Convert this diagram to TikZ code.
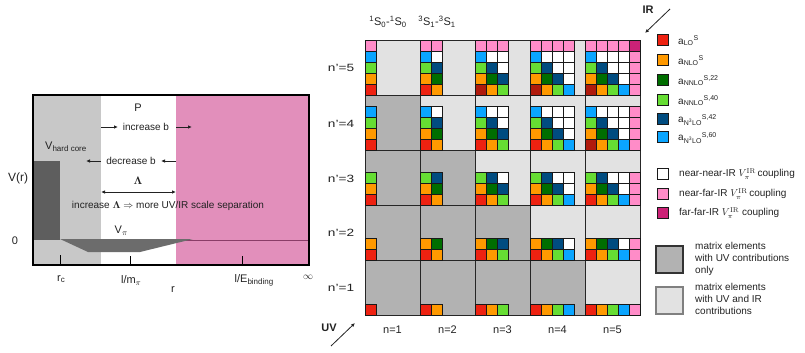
\documentclass[tikz,border=0pt]{standalone}
\usepackage[no-math]{fontspec}
\setmainfont{Liberation Sans}
\usetikzlibrary{arrows.meta}
\definecolor{cRed}{HTML}{EE2211}
\definecolor{cDRed}{HTML}{B01A0C}
\definecolor{cOrange}{HTML}{FF9900}
\definecolor{cDGreen}{HTML}{006E00}
\definecolor{cLGreen}{HTML}{66DD33}
\definecolor{cDBlue}{HTML}{004C80}
\definecolor{cLBlue}{HTML}{0AA5FF}
\definecolor{cPink}{HTML}{FF8CC8}
\definecolor{cMag}{HTML}{CC2277}
\definecolor{cDark}{HTML}{B2B2B2}
\definecolor{cLight}{HTML}{E2E2E2}
\definecolor{pGrey}{HTML}{C8C8C8}
\definecolor{pPink}{HTML}{E28FBB}
\definecolor{pCore}{HTML}{5E5E5E}
\definecolor{pWell}{HTML}{6C6C6C}
\definecolor{pLine}{HTML}{8A3D68}
\definecolor{txt}{HTML}{222222}
\newcommand\pickcol[4]{%
  \pgfmathtruncatemacro\sqsum{#1+#2}%
  \def\sqcol{white}%
  \ifnum\sqsum=0 \def\sqcol{cRed}\fi
  \ifnum\sqsum=1 \def\sqcol{cOrange}\fi
  \ifnum\sqsum=2 \ifnum#1=1 \def\sqcol{cDGreen}\else\def\sqcol{cLGreen}\fi\fi
  \ifnum\sqsum=3 \ifnum#1=1 \def\sqcol{cDBlue}\else\ifnum#1=2 \def\sqcol{cDBlue}\else\def\sqcol{cLBlue}\fi\fi\fi
  \ifnum#1=4 \def\sqcol{cPink}\fi
  \ifnum#2=4 \def\sqcol{cPink}\fi
  \ifnum\sqsum=8 \def\sqcol{cMag}\fi
  \ifnum\sqsum=0
    \ifnum#4=5 \ifnum#3>2 \def\sqcol{cDRed}\fi\fi
    \ifnum#3=5 \ifnum#4=4 \def\sqcol{cDRed}\fi\fi
  \fi
}
\begin{document}
\begin{tikzpicture}[x=1pt,y=-1pt,
  every node/.style={font=\fontsize{10}{12}\selectfont, inner sep=0pt, text=txt},
  cell/.style={draw=black!85, line width=0.8pt},
  sq/.style={draw=black!90, line width=0.8pt},
  ar/.style={-{Latex[length=4pt,width=3.5pt]}, line width=0.8pt, draw=txt},
  dar/.style={{Latex[length=4pt,width=3.5pt]}-{Latex[length=4pt,width=3.5pt]}, line width=0.8pt, draw=txt},
  big/.style={font=\fontsize{12}{14}\selectfont},
  lab/.style={font=\fontsize{11}{13}\selectfont},
  leg/.style={font=\fontsize{10}{12}\selectfont, anchor=west}]
\useasboundingbox (0,0) rectangle (805,353);

% ---------------- left panel ----------------
\fill[pGrey] (33,95) rectangle (101,265);
\fill[white] (101,95) rectangle (176,265);
\fill[pPink] (176,95) rectangle (309,265);
\draw[pLine, line width=0.8pt] (176,240) -- (309,240);
\fill[pWell] (60,239) -- (88,252) -- (140,252) -- (193,239) -- cycle;
\fill[pCore] (33,161) rectangle (60,240);
\draw[line width=0.8pt] (60,255) -- (60,265);
\draw[line width=0.8pt] (130,256) -- (130,265);
\draw[line width=0.8pt] (242,256) -- (242,265);
\draw[line width=1.1pt] (33,95) rectangle (309,265);

\node[lab] (P) at (138,108) {P};
\coordinate (ib1s) at (101,127); \coordinate (ib1e) at (118,127);
\coordinate (ib2s) at (176,127); \coordinate (ib2e) at (192,127);
\draw[ar] (ib1s) -- (ib1e);
\draw[ar] (ib2s) -- (ib2e);
\node (inc) at (146,127) {increase b};
\coordinate (db1s) at (101,161); \coordinate (db1e) at (86,161);
\coordinate (db2s) at (176,161); \coordinate (db2e) at (161,161);
\draw[ar] (db1s) -- (db1e);
\draw[ar] (db2s) -- (db2e);
\node (dec) at (131,161) {decrease b};
\node[lab, anchor=west] (vhc) at (45,147) {V{\fontsize{8}{9}\selectfont\raisebox{-2pt}{hard core}}};
\node[lab] (lam) at (138,181) {$\mathbf{\Lambda}$};
\coordinate (la1) at (101,192); \coordinate (la2) at (176,192);
\draw[dar] (la1) -- (la2);
\node (sep) at (168,206) {increase $\mathbf{\Lambda}\Rightarrow$ more UV/IR scale separation};
\node[lab] (vpi) at (121,231) {V{\fontsize{8}{9}\selectfont\raisebox{-2pt}{$\pi$}}};
\node[big] (vr) at (18,178) {V(r)};
\node[lab] (zero) at (15,241) {0};
\node[lab] (rc) at (61,279) {r{\fontsize{8}{9}\selectfont\raisebox{-1.5pt}{c}}};
\node[lab] (mpi) at (131,281) {l/m{\fontsize{8}{9}\selectfont\raisebox{-2pt}{$\pi$}}};
\node[lab] (eb) at (254,280) {l/E{\fontsize{8}{9}\selectfont\raisebox{-2pt}{binding}}};
\node[lab] (r) at (173,290) {r};
\node (inf) at (308,277) {$\infty$};

% ---------------- grid ----------------
\foreach \n in {1,...,5}{
  \foreach \m in {1,...,5}{
    \pgfmathtruncatemacro\sm{\n+\m}
    \ifnum\sm>5 \def\bg{cLight}\else\def\bg{cDark}\fi
    \draw[cell, fill=\bg] ({365+55*(\n-1)},{315-55*(\m-1)}) rectangle ++(55,-55);
  }
}
\foreach \n in {1,...,5}{
  \foreach \m in {1,...,5}{
    \pgfmathtruncatemacro\imax{\n-1}
    \pgfmathtruncatemacro\jmax{\m-1}
    \foreach \i in {0,...,\imax}{
      \foreach \j in {0,...,\jmax}{
        \pickcol{\i}{\j}{\n}{\m}
        \draw[sq, fill=\sqcol] ({365+55*(\n-1)+11*\i},{315-55*(\m-1)-11*\j}) rectangle ++(11,-11);
      }
    }
  }
}
\foreach \m/\yy in {5/68,4/124,3/179,2/233,1/288}{
  \node[font=\fontsize{10.5}{12}\selectfont, xscale=1.3] (np\m) at (341,\yy) {n'=\m};
}
\foreach \n in {1,...,5}{
  \node[lab] (n\n) at ({392.5+55*(\n-1)},330) {n=\n};
}
\node[lab] (s0) at (388,22) {\textsuperscript{1}S\textsubscript{0}-\textsuperscript{1}S\textsubscript{0}};
\node[lab] (s1) at (437,22) {\textsuperscript{3}S\textsubscript{1}-\textsuperscript{3}S\textsubscript{1}};
\node[font=\fontsize{11}{13}\selectfont\bfseries] (UV) at (329,328) {UV};
\coordinate (uvs) at (331,346); \coordinate (uve) at (355,323);
\draw[ar] (uvs) -- (uve);
\node[font=\fontsize{11}{13}\selectfont\bfseries] (IR) at (648,10) {IR};
\coordinate (irs) at (670,9); \coordinate (ire) at (645,33);
\draw[ar] (irs) -- (ire);

% ---------------- legend ----------------
\foreach \c/\yy in {cRed/40,cOrange/60,cDGreen/80,cLGreen/100,cDBlue/119,cLBlue/137,white/174,cPink/194,cMag/213}{
  \draw[sq, fill=\c] (657,\yy-5.5) rectangle ++(11,11);
}
\node[leg] (l1) at (678,41) {a\textsubscript{LO}\textsuperscript{S}};
\node[leg] (l2) at (678,61) {a\textsubscript{NLO}\textsuperscript{S}};
\node[leg] (l3) at (678,81) {a\textsubscript{NNLO}\textsuperscript{S,22}};
\node[leg] (l4) at (678,101) {a\textsubscript{NNLO}\textsuperscript{S,40}};
\node[leg] (l5) at (678,120) {a\textsubscript{N\textsuperscript{3}LO}\textsuperscript{S,42}};
\node[leg] (l6) at (678,138) {a\textsubscript{N\textsuperscript{3}LO}\textsuperscript{S,60}};
\node[leg] (l7) at (679,174) {near-near-IR $V_\pi^{\rm IR}$\,coupling};
\node[leg] (l8) at (679,194) {near-far-IR $V_\pi^{\rm IR}$\,coupling};
\node[leg] (l9) at (679,213) {far-far-IR $V_\pi^{\rm IR}$ coupling};
\draw[fill=cDark, draw=black!80, line width=1.2pt] (656,246) rectangle (683,273);
\draw[fill=cLight, draw=black!50, line width=1.2pt] (656,287) rectangle (683,314);
\node[anchor=north west, align=left] (m1) at (695,242) {matrix elements\\with UV contributions\\only};
\node[anchor=north west, align=left] (m2) at (695,283) {matrix elements\\with UV and IR\\contributions};
\end{tikzpicture}
\end{document}
